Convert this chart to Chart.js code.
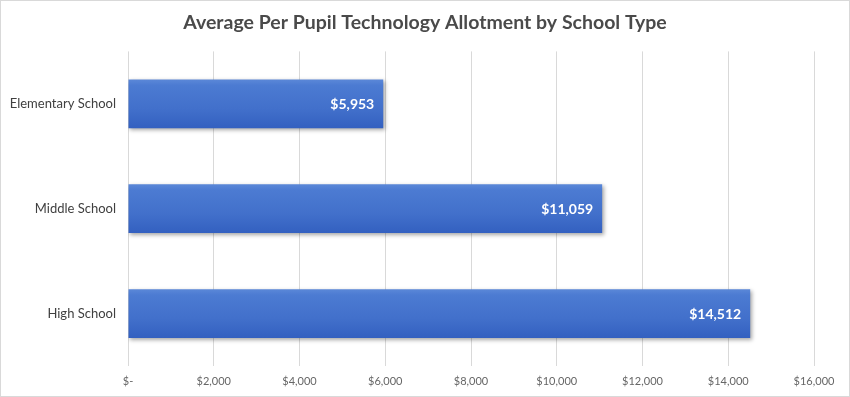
<!DOCTYPE html>
<html>
<head>
<meta charset="utf-8">
<script src="https://cdn.jsdelivr.net/npm/chart.js@4/dist/chart.umd.min.js"></script>
<style>
html,body{margin:0;padding:0;background:#fff;}
#wrap{width:850px;height:397px;position:relative;}
</style>
</head>
<body>
<div id="wrap"><canvas id="c" width="850" height="397"></canvas></div>
<script>
const categories = ["Elementary School", "Middle School", "High School"];
const allotment = [5953, 11059, 14512];
const tickValues = [0, 2000, 4000, 6000, 8000, 10000, 12000, 14000, 16000];
const chartTitle = "Average Per Pupil Technology Allotment by School Type";

const FONT = "Lato, 'Open Sans', sans-serif";

function money(v){
  if (v === 0) return "$-";
  return "$" + v.toLocaleString("en-US");
}

const borderPlugin = {
  id: "frame",
  afterDraw(chart){
    const ctx = chart.ctx;
    ctx.save();
    ctx.strokeStyle = "#d9d9d9";
    ctx.lineWidth = 1;
    ctx.strokeRect(0.5, 0.5, chart.width - 1, chart.height - 1);
    ctx.restore();
  }
};

const barStyle = {
  id: "barStyle",
  beforeDatasetsDraw(chart){
    const ctx = chart.ctx;
    const meta = chart.getDatasetMeta(0);
    meta.data.forEach(el => {
      const top = el.y - el.height / 2, bot = el.y + el.height / 2;
      const g = ctx.createLinearGradient(0, top, 0, bot);
      g.addColorStop(0, "#5b88d8");
      g.addColorStop(0.12, "#4c7bd2");
      g.addColorStop(0.6, "#4270cb");
      g.addColorStop(1, "#3360c0");
      el.options = Object.assign({}, el.options, { backgroundColor: g });
    });
    ctx.save();
    ctx.shadowColor = "rgba(0,0,0,0.35)";
    ctx.shadowBlur = 4;
    ctx.shadowOffsetX = 1.5;
    ctx.shadowOffsetY = 2;
  },
  afterDatasetsDraw(chart){
    const ctx = chart.ctx;
    ctx.restore();
    const meta = chart.getDatasetMeta(0);
    ctx.save();
    ctx.fillStyle = "#ffffff";
    ctx.font = "bold 14px " + FONT;
    ctx.textAlign = "right";
    ctx.textBaseline = "middle";
    meta.data.forEach((el, i) => {
      ctx.fillText(money(allotment[i]), el.x - 9, el.y + 1);
    });
    ctx.restore();
  }
};

new Chart(document.getElementById("c"), {
  type: "bar",
  data: {
    labels: categories,
    datasets: [{
      data: allotment,
      backgroundColor: (c) => "#4472c4",
      borderWidth: 0,
      barPercentage: 0.93,
      categoryPercentage: 0.5
    }]
  },
  options: {
    indexAxis: "y",
    responsive: false,
    animation: false,
    devicePixelRatio: 1,
    layout: { padding: 0 },
    plugins: {
      legend: { display: false },
      tooltip: { enabled: false },
      title: {
        display: true,
        text: chartTitle,
        color: "#4a4a4a",
        font: { family: FONT, size: 19.5, weight: "bold" },
        padding: { top: 11.5, bottom: 16.5 }
      }
    },
    scales: {
      x: {
        min: 0, max: 16000,
        afterBuildTicks(scale){ scale.ticks = tickValues.map(v => ({ value: v })); },
        afterFit(scale){ scale.height = 31; },
        grid: { color: "#d9d9d9", drawTicks: false, lineWidth: 1 },
        border: { display: false },
        ticks: {
          padding: 9,
          color: "#666666",
          font: { family: FONT, size: 11 },
          callback: v => money(v),
          maxRotation: 0,
          autoSkip: false
        }
      },
      y: {
        afterFit(scale){ scale.width = 128; },
        grid: { display: false, drawTicks: false },
        border: { display: false },
        ticks: {
          padding: 12,
          color: "#404040",
          font: { family: FONT, size: 13 }
        }
      },
      yRight: {
        type: "category",
        labels: categories,
        position: "right",
        afterFit(scale){ scale.width = 36; },
        grid: { display: false, drawTicks: false },
        border: { display: false },
        ticks: { display: false }
      }
    }
  },
  plugins: [barStyle, borderPlugin]
});
</script>
</body>
</html>
